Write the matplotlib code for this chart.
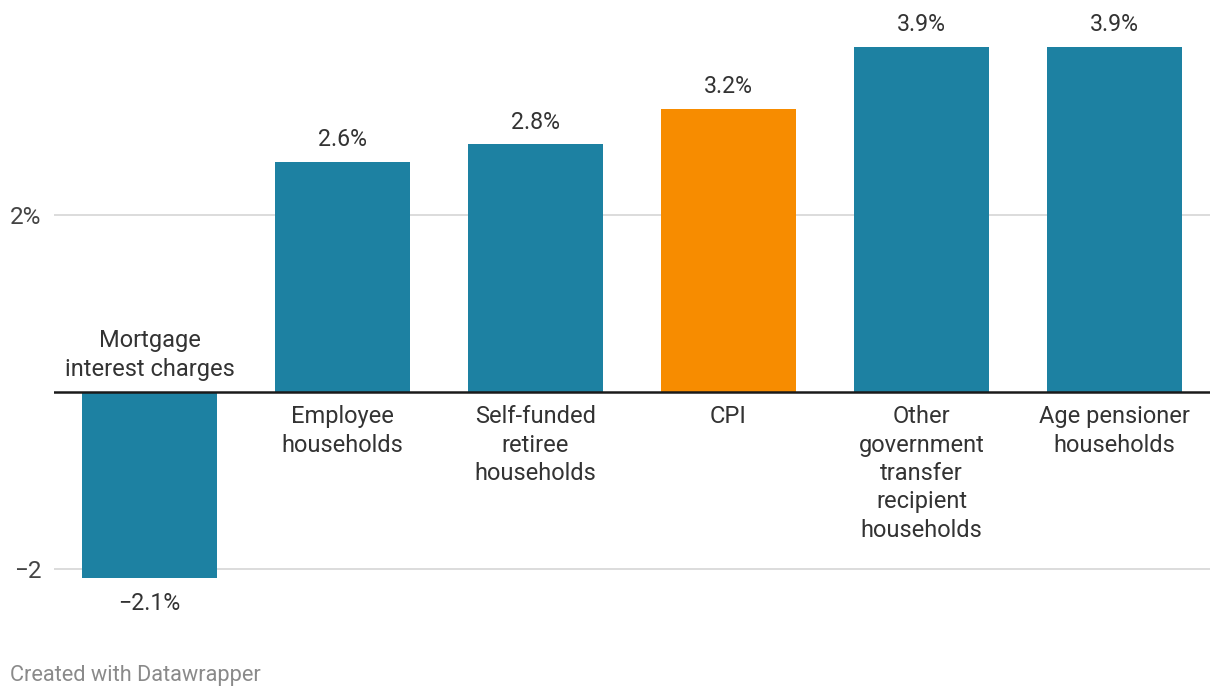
import matplotlib.pyplot as plt

plt.rcParams['font.family'] = ['Roboto', 'DejaVu Sans']

# Données
categories = ["Mortgage\ninterest charges", "Employee\nhouseholds", "Self-funded\nretiree\nhouseholds",
              "CPI", "Other\ngovernment\ntransfer\nrecipient\nhouseholds", "Age pensioner\nhouseholds"]
valeurs = [-2.1, 2.6, 2.8, 3.2, 3.9, 3.9]
etiquettes = ["\u22122.1%", "2.6%", "2.8%", "3.2%", "3.9%", "3.9%"]
ticks_y = [-2, 2]
ticks_y_labels = ["\u22122", "2%"]

bleu = '#1d81a2'
orange = '#f78c00'
couleurs = [orange if c == "CPI" else bleu for c in categories]

fig = plt.figure(figsize=(12.2, 6.98), dpi=100)
ax = fig.add_axes([54 / 1220, 58 / 698, (1210 - 54) / 1220, 640 / 698])

x = list(range(len(categories)))
ax.bar(x, valeurs, width=0.7, color=couleurs, zorder=2)

ax.set_xlim(-0.495, 5.495)
ax.set_ylim(-2.802, 4.429)

# Grille
for t in ticks_y:
    ax.axhline(t, color='#d9d9d9', linewidth=1.3, zorder=1)
ax.axhline(0, color='#1a1a1a', linewidth=1.8, zorder=3)

ax.set_yticks(ticks_y)
ax.set_yticklabels(ticks_y_labels)
ax.tick_params(axis='y', length=0, pad=9, labelsize=17.5, labelcolor='#444444')
ax.set_xticks([])
for s in ax.spines.values():
    s.set_visible(False)

# Étiquettes de valeurs et de catégories
for xi, v, lab, cat in zip(x, valeurs, etiquettes, categories):
    if v >= 0:
        ax.annotate(lab, (xi, v), xytext=(0, 7.5), textcoords='offset points',
                    ha='center', va='bottom', fontsize=16.7, color='#333333')
        ax.annotate(cat, (xi, 0), xytext=(0, -9.5), textcoords='offset points',
                    ha='center', va='top', fontsize=17, color='#333333', linespacing=1.3)
    else:
        ax.annotate(lab, (xi, v), xytext=(0, -10.5), textcoords='offset points',
                    ha='center', va='top', fontsize=16.7, color='#333333')
        ax.annotate(cat, (xi, 0), xytext=(0, 8), textcoords='offset points',
                    ha='center', va='bottom', fontsize=17, color='#333333', linespacing=1.3)

fig.text(10 / 1220, 1 - 675 / 698, "Created with Datawrapper", fontsize=15.7, color='#8a8a8a',
         ha='left', va='center')

fig.savefig('out.png', dpi=100, facecolor='white')
